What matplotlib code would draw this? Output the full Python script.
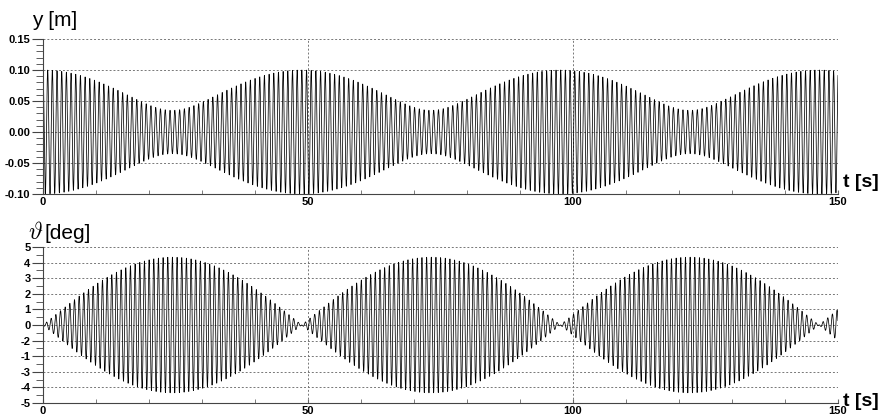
import numpy as np
import matplotlib
matplotlib.use("Agg")
import matplotlib.pyplot as plt
from matplotlib.ticker import MultipleLocator

plt.rcParams['font.family'] = ['Liberation Sans', 'DejaVu Sans']
plt.rcParams['mathtext.fontset'] = 'cm'

# values
t_end = 150.0                 # s
carrier_period = 0.88         # s, period of the fast oscillation
beat_period = 48.8            # s, period of the envelope
y_env_max = 0.100             # m, largest envelope of y
y_env_min = 0.035             # m, smallest envelope of y
theta_env_max = 4.35          # deg, largest envelope of theta

y_ticks = [0.15, 0.10, 0.05, 0.00, -0.05, -0.10]
y_ticklabels = ['0.15', '0.10', '0.05', '0.00', '-0.05', '-0.10']
th_ticks = [5, 4, 3, 2, 1, 0, -1, -2, -3, -4, -5]
th_ticklabels = ['5', '4', '3', '2', '1', '0', '-2', '-1', '-3', '-4', '-5']
t_ticks = [0, 50, 100, 150]
t_ticklabels = ['0', '50', '100', '150']

# two-mode signal built from the read values
t = np.linspace(0, t_end, 40000)
w_c = 2 * np.pi / carrier_period
w_b = 2 * np.pi / beat_period
w1 = w_c - w_b / 2
w2 = w_c + w_b / 2
a = (y_env_max + y_env_min) / 2
b = (y_env_max - y_env_min) / 2
y = a * np.cos(w1 * t) + b * np.cos(w2 * t)
theta = theta_env_max / 2 * (np.cos(w2 * t) - np.cos(w1 * t))

fig = plt.figure(figsize=(8.81, 4.19), dpi=100)
ax1 = fig.add_axes([43/881, 1-194/419, 795/881, 155/419])
ax2 = fig.add_axes([43/881, 1-403/419, 795/881, 156/419])

def style(ax):
    ax.spines['top'].set_visible(False)
    ax.spines['right'].set_visible(False)
    ax.spines['left'].set_color('#444444')
    ax.spines['bottom'].set_color('#444444')
    ax.grid(True, which='major', linestyle=(0, (2, 2)), color='#777777', linewidth=0.7)
    ax.set_axisbelow(True)
    ax.xaxis.set_minor_locator(MultipleLocator(10))
    ax.tick_params(axis='x', which='both', direction='in', length=3, color='#666666', pad=2)
    ax.tick_params(axis='y', which='major', direction='out', length=8, color='#444444', pad=1)
    ax.tick_params(axis='y', which='minor', direction='out', length=5, color='#444444')
    ax.set_xlim(0, t_end)
    ax.set_xticks(t_ticks)
    ax.set_xticklabels(t_ticklabels, fontsize=8, fontweight='bold')

ax1.plot(t, y, color='black', linewidth=0.55)
style(ax1)
ax1.set_ylim(-0.10, 0.15)
ax1.set_yticks(y_ticks)
ax1.set_yticklabels(y_ticklabels, fontsize=8, fontweight='bold')
ax1.yaxis.set_minor_locator(MultipleLocator(0.01))

ax2.plot(t, theta, color='black', linewidth=0.55)
style(ax2)
ax2.set_ylim(-5, 5)
ax2.set_yticks(th_ticks)
ax2.set_yticklabels(th_ticklabels, fontsize=8, fontweight='bold')
ax2.yaxis.set_minor_locator(MultipleLocator(0.5))

fig.text(32/881, 1-21/419, 'y [m]', fontsize=15, va='center', ha='left')
fig.text(28/881, 1-233/419, r'$\vartheta$', fontsize=17, va='center', ha='left')
fig.text(44/881, 1-233/419, '[deg]', fontsize=15, va='center', ha='left')
fig.text(843/881, 1-182/419, 't [s]', fontsize=14, fontweight='bold', va='center', ha='left')
fig.text(843/881, 1-401/419, 't [s]', fontsize=14, fontweight='bold', va='center', ha='left')

fig.savefig('out.png', dpi=100)
